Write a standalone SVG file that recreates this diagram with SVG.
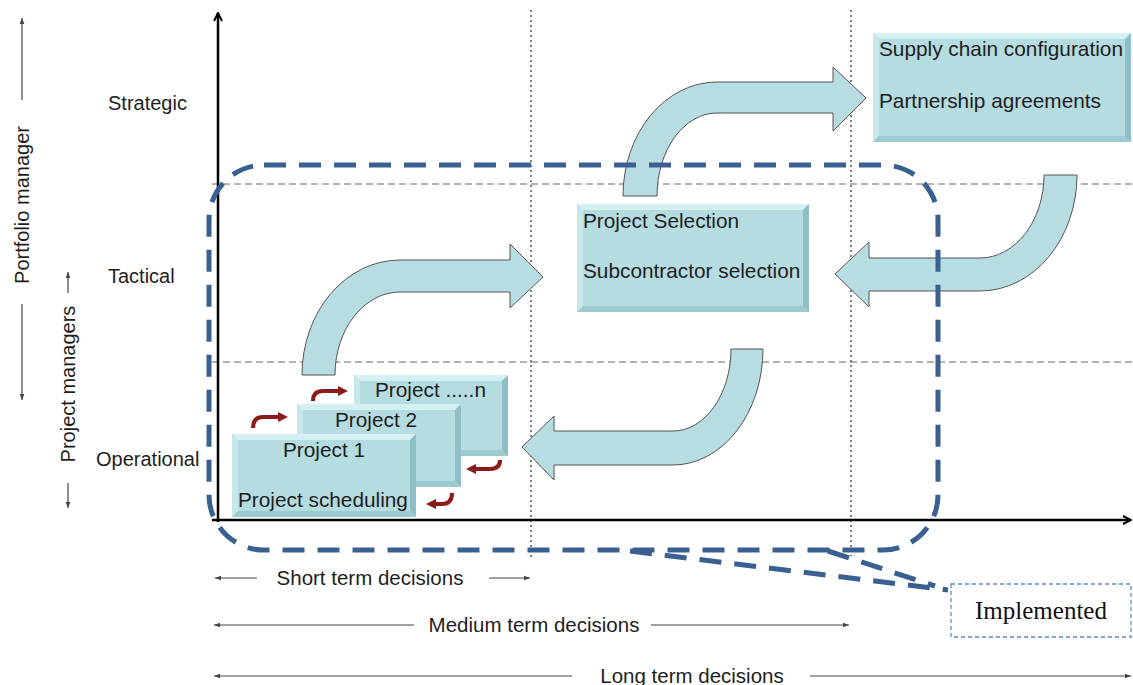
<svg xmlns="http://www.w3.org/2000/svg" width="1133" height="685" viewBox="0 0 1133 685">
<style>
.lbl{font-family:"Liberation Sans",Arial,sans-serif;font-size:20px;fill:#1e1e1e}
.box{font-family:"Liberation Sans",Arial,sans-serif;font-size:20.8px;fill:#1e1e1e}
.bot{font-family:"Liberation Sans",Arial,sans-serif;font-size:20.5px;fill:#1e1e1e}
.grid{stroke:#666;stroke-width:1.2;stroke-dasharray:7 4;fill:none}
.vgrid{stroke:#555;stroke-width:1.5;stroke-dasharray:2 3;fill:none}
.axis{stroke:#000;stroke-width:2.5;fill:none}
.thin{stroke:#444;stroke-width:1.2;fill:none}
.curv{fill:#b7dde2;stroke:#555;stroke-width:1}
.face{fill:#b5dce1}
.bt{fill:#d4f0f3}
.bl{fill:#c6e7eb}
.br{fill:#8ebfc6}
.bb{fill:#9ccbd1}
.red{stroke:#8b1a1a;stroke-width:4;fill:none}
.callout{stroke:#3a6092;stroke-width:5;stroke-dasharray:22 13;fill:none}
</style>
<defs>
<marker id="axh" viewBox="0 0 10 10" refX="9" refY="5" markerWidth="4" markerHeight="4" orient="auto" markerUnits="strokeWidth">
<path d="M1,1 L9,5 L1,9" fill="none" stroke="#000" stroke-width="2"/>
</marker>
<marker id="th" viewBox="0 0 10 10" refX="9" refY="5" markerWidth="6" markerHeight="6" orient="auto" markerUnits="strokeWidth">
<path d="M0,1.5 L9,5 L0,8.5 Z" fill="#444"/>
</marker>
<marker id="rh" viewBox="0 0 10 10" refX="6" refY="5" markerWidth="2.5" markerHeight="2.5" orient="auto" markerUnits="strokeWidth">
<path d="M0,0 L10,5 L0,10 Z" fill="#8b1a1a"/>
</marker>
</defs>

<g id="grid">
<line class="grid" x1="212" y1="184" x2="1133" y2="184"/>
<line class="grid" x1="212" y1="362" x2="1133" y2="362"/>
<line class="vgrid" x1="531" y1="10" x2="531" y2="560"/>
<line class="vgrid" x1="851" y1="10" x2="851" y2="556"/>
</g>

<g id="axes">
<line class="axis" x1="218" y1="522" x2="218" y2="13" marker-end="url(#axh)"/>
<line class="axis" x1="212" y1="520" x2="1131" y2="520" marker-end="url(#axh)"/>
</g>

<g id="connectors">
<path class="curv" d="M302,375 A98,115 0 0 1 400,260 L510,260 L510,244 L543,277 L510,308 L510,292 L400,292 A65,83 0 0 0 335,375 Z"/>
<path class="curv" d="M623,196 A94,114 0 0 1 717,82 L833,82 L833,67 L866,98 L833,131 L833,113 L717,113 A60,83 0 0 0 657,196 Z"/>
<path class="curv" d="M1044,175 L1077,175 A97,116 0 0 1 980,291 L869,291 L869,307 L835,274 L869,242 L869,258 L980,258 A64,83 0 0 0 1044,175 Z"/>
<path class="curv" d="M731,349 L763,349 A90,116 0 0 1 673,465 L554,465 L554,480 L522,447 L554,416 L554,431 L673,431 A58,82 0 0 0 731,349 Z"/>
<path class="red" d="M253,428 Q253,417 263,417 L284,417" marker-end="url(#rh)"/>
<path class="red" d="M313,401 Q313,391 323,391 L344,391" marker-end="url(#rh)"/>
<path class="red" d="M500,460 Q500,469 490,469 L470,469" marker-end="url(#rh)"/>
<path class="red" d="M452,493 Q452,504 442,504 L430,504" marker-end="url(#rh)"/>
</g>

<g id="node-supply">
<rect class="face" x="873" y="33" width="258" height="109"/>
<polygon class="bt" points="873,33 1131,33 1125,39 879,39"/>
<polygon class="bl" points="873,33 879,39 879,136 873,142"/>
<polygon class="br" points="1131,33 1131,142 1125,136 1125,39"/>
<polygon class="bb" points="873,142 879,136 1125,136 1131,142"/>
<text class="box" x="879" y="56">Supply  chain configuration</text>
<text class="box" x="879" y="108">Partnership agreements</text>
</g>

<g id="node-selection">
<rect class="face" x="577" y="204" width="232" height="108"/>
<polygon class="bt" points="577,204 809,204 803,210 583,210"/>
<polygon class="bl" points="577,204 583,210 583,306 577,312"/>
<polygon class="br" points="809,204 809,312 803,306 803,210"/>
<polygon class="bb" points="577,312 583,306 803,306 809,312"/>
<text class="box" x="583" y="228">Project Selection</text>
<text class="box" x="583" y="278">Subcontractor selection</text>
</g>

<g id="node-project-n">
<rect class="face" x="354" y="375" width="154" height="81"/>
<polygon class="bt" points="354,375 508,375 502,381 360,381"/>
<polygon class="bl" points="354,375 360,381 360,450 354,456"/>
<polygon class="br" points="508,375 508,456 502,450 502,381"/>
<polygon class="bb" points="354,456 360,450 502,450 508,456"/>
<text class="box" x="375" y="397">Project .....n</text>
</g>

<g id="node-project-2">
<rect class="face" x="297" y="404" width="164" height="83"/>
<polygon class="bt" points="297,404 461,404 455,410 303,410"/>
<polygon class="bl" points="297,404 303,410 303,481 297,487"/>
<polygon class="br" points="461,404 461,487 455,481 455,410"/>
<polygon class="bb" points="297,487 303,481 455,481 461,487"/>
<text class="box" x="335" y="427">Project  2</text>
</g>

<g id="node-project-1">
<rect class="face" x="232" y="434" width="184" height="83"/>
<polygon class="bt" points="232,434 416,434 410,440 238,440"/>
<polygon class="bl" points="232,434 238,440 238,511 232,517"/>
<polygon class="br" points="416,434 416,517 410,511 410,440"/>
<polygon class="bb" points="232,517 238,511 410,511 416,517"/>
<text class="box" x="283" y="457">Project 1</text>
<text class="box" x="238" y="507">Project scheduling</text>
</g>

<g id="callout">
<path class="callout" d="M264,165 H883 A55,55 0 0 1 938,220 V495 A55,55 0 0 1 883,550 H264 A55,55 0 0 1 209,495 V220 A55,55 0 0 1 264,165 Z"/>
<path class="callout" d="M630,551 L948,590 M828,551 L935,586"/>
</g>

<g id="node-implemented">
<rect x="951" y="584" width="180" height="53" fill="#fff" stroke="#5b8bd0" stroke-width="1.3" stroke-dasharray="4 3"/>
<text x="1041" y="619" text-anchor="middle" font-family="Liberation Serif,'Times New Roman',serif" font-size="25" fill="#111">Implemented</text>
</g>

<g id="levels">
<text class="lbl" x="108" y="110">Strategic</text>
<text class="lbl" x="108" y="283">Tactical</text>
<text class="lbl" x="96" y="466">Operational</text>
</g>

<g id="roles">
<line class="thin" x1="22" y1="100" x2="22" y2="18" marker-end="url(#th)"/>
<text class="lbl" transform="translate(29,205) rotate(-90)" text-anchor="middle">Portfolio manager</text>
<line class="thin" x1="22" y1="304" x2="22" y2="400" marker-end="url(#th)"/>
<line class="thin" x1="68" y1="293" x2="68" y2="272" marker-end="url(#th)"/>
<text class="lbl" transform="translate(75,384) rotate(-90)" text-anchor="middle">Project managers</text>
<line class="thin" x1="68" y1="483" x2="68" y2="508" marker-end="url(#th)"/>
</g>

<g id="horizons">
<line class="thin" x1="257" y1="578" x2="215" y2="578" marker-end="url(#th)"/>
<text class="bot" x="370" y="585" text-anchor="middle">Short term decisions</text>
<line class="thin" x1="489" y1="578" x2="530" y2="578" marker-end="url(#th)"/>
<line class="thin" x1="414" y1="625" x2="214" y2="625" marker-end="url(#th)"/>
<text class="bot" x="534" y="632" text-anchor="middle">Medium  term decisions</text>
<line class="thin" x1="651" y1="625" x2="849" y2="625" marker-end="url(#th)"/>
<line class="thin" x1="572" y1="676" x2="214" y2="676" marker-end="url(#th)"/>
<text class="bot" x="692" y="683" text-anchor="middle">Long term decisions</text>
<line class="thin" x1="810" y1="676" x2="1131" y2="676" marker-end="url(#th)"/>
</g>
</svg>
